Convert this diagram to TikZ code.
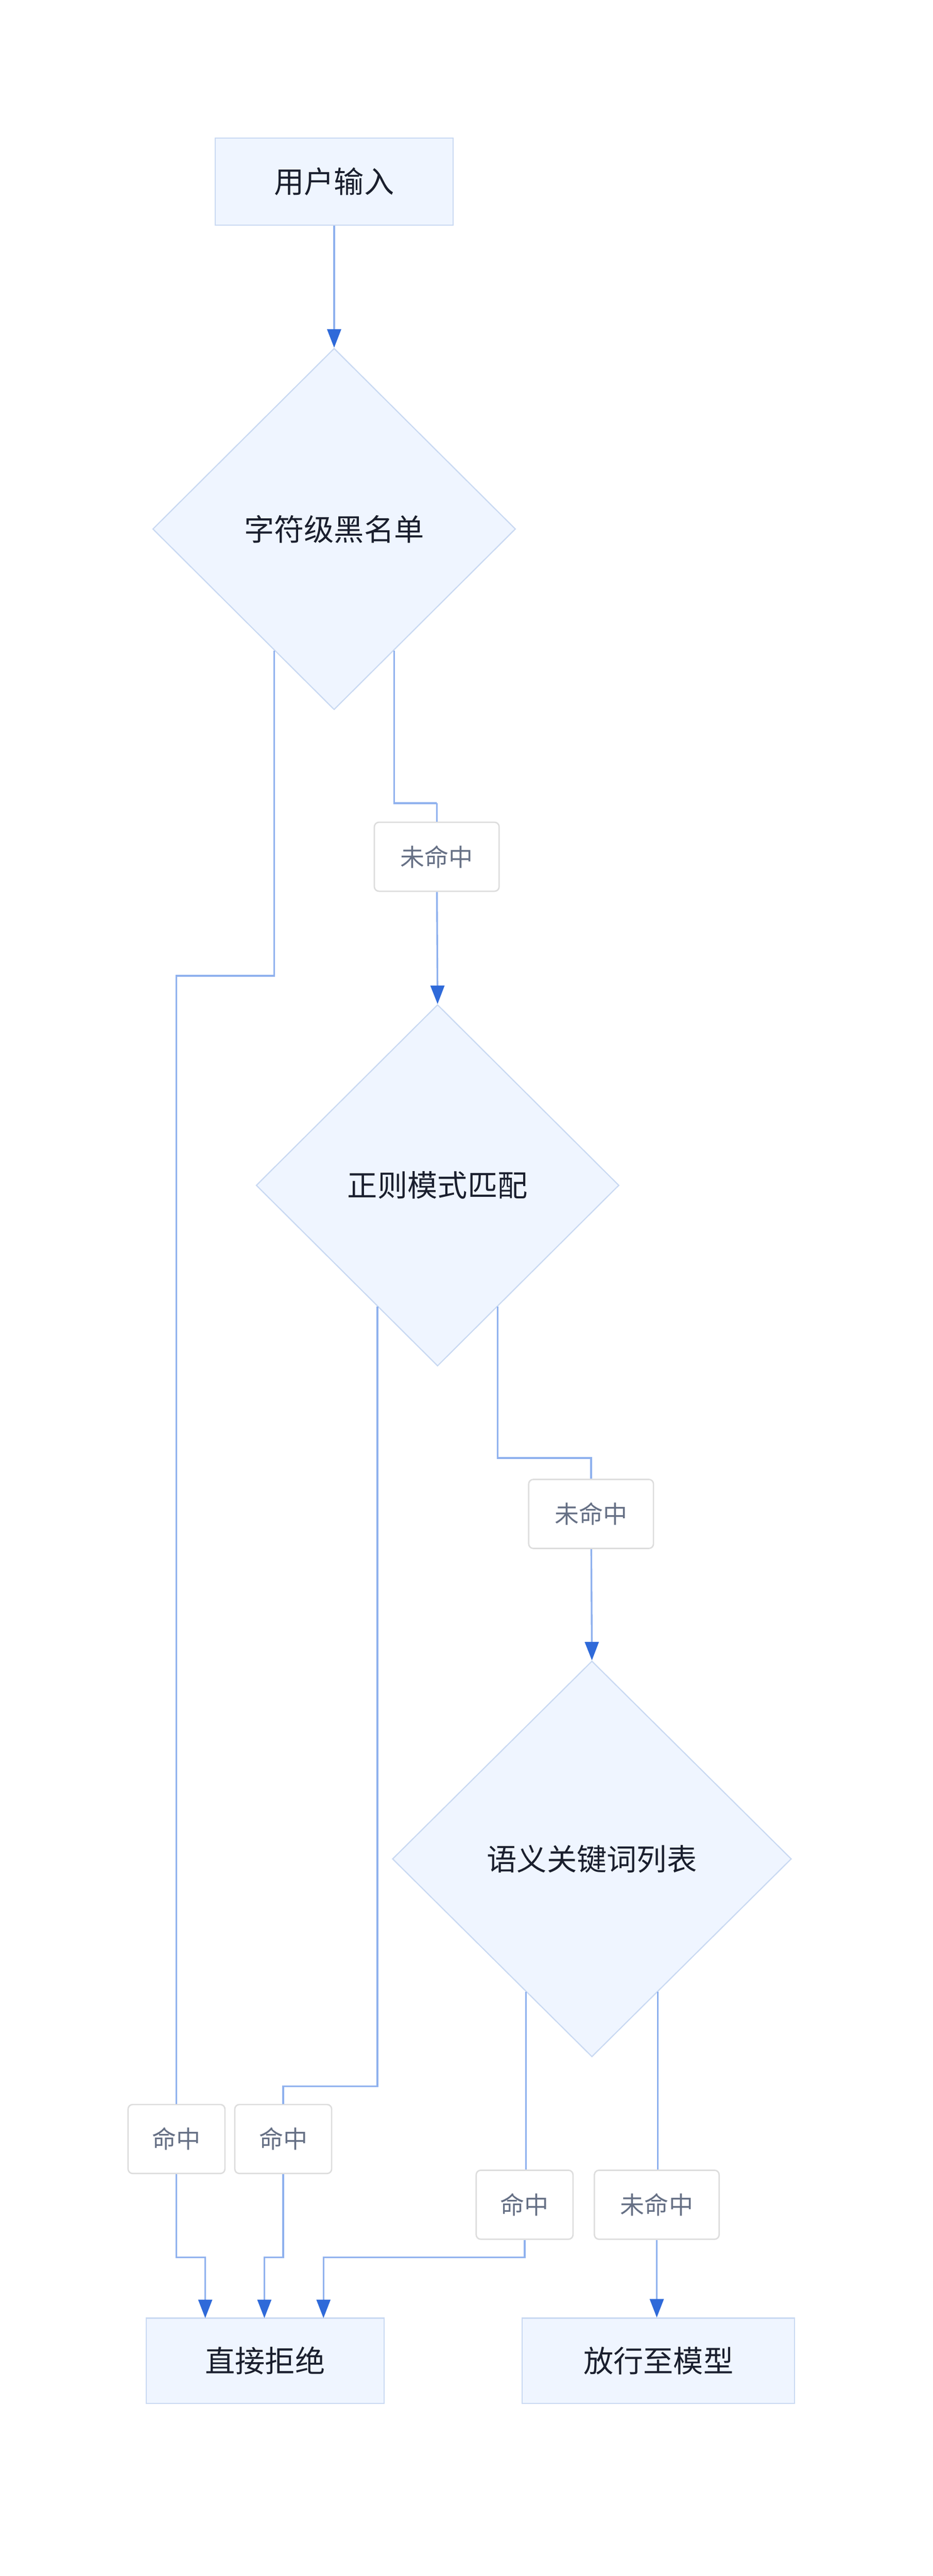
\documentclass[tikz,border=0pt]{standalone}
\usepackage{fontspec}
\setmainfont{Noto Sans CJK SC}
\usetikzlibrary{shapes.geometric,arrows.meta,calc}

\definecolor{nodefill}{HTML}{EFF5FF}
\definecolor{nodeline}{HTML}{C9D9F2}
\definecolor{linkline}{HTML}{8FB1EE}
\definecolor{tipblue}{HTML}{2F6AD9}
\definecolor{tagline}{HTML}{DDDDDD}
\definecolor{tagtext}{HTML}{667085}
\definecolor{textdark}{HTML}{1A1F2E}

\tikzset{
    box/.style={draw=nodeline, fill=nodefill, line width=1pt, text=textdark,
        font=\fontsize{26}{30}\selectfont, inner sep=0pt},
    check/.style={diamond, aspect=1, draw=nodeline, fill=nodefill, line width=1pt,
        text=textdark, font=\fontsize{26}{30}\selectfont, inner sep=0pt},
    tag/.style={draw=tagline, fill=white, rounded corners=4pt, line width=1.2pt,
        text=tagtext, font=\fontsize{21}{25}\selectfont, inner sep=0pt,
        minimum height=2.1cm},
    link/.style={draw=linkline, line width=1.5pt},
    flow/.style={link, -{Triangle[color=tipblue, length=16pt, width=12pt]}}
}

\begin{document}
\begin{tikzpicture}[x=0.05cm, y=-0.05cm]

    % 画布
    \useasboundingbox (0,0) rectangle (568,1568);

    % 方框与判断
    \node[box, minimum width=7.25cm, minimum height=2.65cm] (input) at (203.5,110.5) {用户输入};
    \node[check, minimum width=11.05cm, minimum height=11cm] (charlist) at (203.5,322) {字符级黑名单};
    \node[check, minimum width=11.05cm, minimum height=11cm] (regex) at (266.5,721.5) {正则模式匹配};
    \node[check, minimum width=12.15cm, minimum height=12.05cm] (keyword) at (360.5,1131.5) {语义关键词列表};
    \node[box, minimum width=7.25cm, minimum height=2.6cm] (reject) at (161.5,1437) {直接拒绝};
    \node[box, minimum width=8.3cm, minimum height=2.6cm] (pass) at (401,1437) {放行至模型};

    % 标签
    \node[tag, minimum width=3.8cm] (miss1) at (266,521.5) {未命中};
    \node[tag, minimum width=3.8cm] (miss2) at (360,921.5) {未命中};
    \node[tag, minimum width=2.95cm] (hit1) at (107.5,1302) {命中};
    \node[tag, minimum width=2.95cm] (hit2) at (172.5,1302) {命中};
    \node[tag, minimum width=2.95cm] (hit3) at (319.5,1342) {命中};
    \node[tag, minimum width=3.8cm] (miss3) at (400,1342) {未命中};

    % 出口点
    \coordinate (c1l) at ($(charlist.south)!0.33!(charlist.west)$);
    \coordinate (c1r) at ($(charlist.south)!0.33!(charlist.east)$);
    \coordinate (c2l) at ($(regex.south)!0.33!(regex.west)$);
    \coordinate (c2r) at ($(regex.south)!0.33!(regex.east)$);
    \coordinate (c3l) at ($(keyword.south)!0.33!(keyword.west)$);
    \coordinate (c3r) at ($(keyword.south)!0.33!(keyword.east)$);

    % 连线
    \draw[flow] (input) -- (charlist.north);
    \draw[link] (c1r) |- ++(26,93) -| (miss1.north);
    \draw[flow] (miss1) -- (regex.north);
    \draw[link] (c2r) |- ++(56,92) -| (miss2.north);
    \draw[flow] (miss2) -- (keyword.north);
    \draw[link] (c1l) |- (108,594) -| (hit1.north);
    \draw[link] (c2l) |- (173,1270) -| (hit2.north);
    \draw[link] (c3l) -- (c3l |- hit3.north);
    \draw[link] (c3r) -- (c3r |- miss3.north);
    \draw[flow] (hit1.south) |- (125,1374) -- (125,1411);
    \draw[flow] (hit2.south) |- (161,1374) -- (161,1411);
    \draw[flow] (hit3.south) |- (197,1374) -- (197,1411);
    \draw[flow] (miss3.south) -- (miss3.south |- pass.north);

\end{tikzpicture}
\end{document}
